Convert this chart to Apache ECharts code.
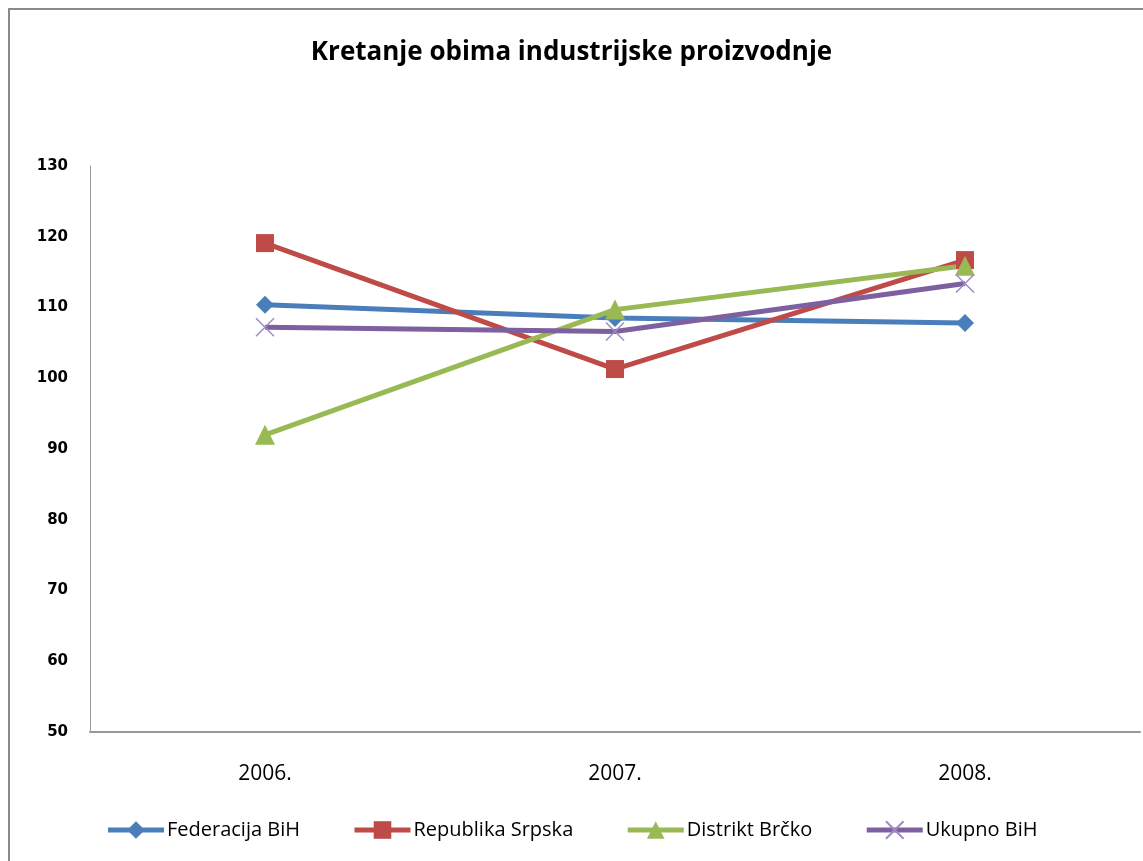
<!DOCTYPE html>
<html><head><meta charset="utf-8">
<script src="https://cdn.jsdelivr.net/npm/echarts@6/dist/echarts.min.js"></script>
<style>html,body{margin:0;padding:0;background:#fff}#c{width:1143px;height:861px}</style>
</head><body><div id="c"></div>
<script>
const categories = ['2006.', '2007.', '2008.'];
const federacija = [110.4, 108.5, 107.8];
const republika = [119.1, 101.3, 116.7];
const distrikt = [92.0, 109.7, 115.9];
const ukupno = [107.2, 106.6, 113.4];
const seriesNames = ['Federacija BiH', 'Republika Srpska', 'Distrikt Brčko', 'Ukupno BiH'];

const chart = echarts.init(document.getElementById('c'));
const xSym = 'path://M0,0L10,10M10,0L0,10';
chart.setOption({
  animation: false,
  backgroundColor: '#fff',
  title: {
    text: 'Kretanje obima industrijske proizvodnje',
    left: 'center', top: 35,
    textStyle: { fontFamily: 'Open Sans', fontWeight: 'bold', fontSize: 26, color: '#000' }
  },
  graphic: [{
    type: 'rect', shape: { x: 9, y: 9, width: 1300, height: 1000 },
    style: { fill: 'none', stroke: '#8a8a8a', lineWidth: 2 }, silent: true, z: 100
  }],
  grid: { left: 90, right: 3, top: 166, bottom: 129, containLabel: false },
  legend: {
    bottom: 16, left: 'center', itemWidth: 56, itemHeight: 22, itemGap: 52,
    lineStyle: { width: 5 },
    textStyle: { fontFamily: 'Open Sans', fontSize: 20, color: '#000', padding: [0, 0, 0, -2] },
    data: seriesNames
  },
  xAxis: {
    type: 'category', data: categories, boundaryGap: true,
    axisLine: { lineStyle: { color: '#999', width: 2 } },
    axisTick: { show: false },
    axisLabel: { fontFamily: 'Open Sans', fontSize: 21, color: '#000', margin: 32 }
  },
  yAxis: {
    type: 'value', min: 50, max: 130, interval: 10,
    axisLine: { show: true, lineStyle: { color: '#999', width: 1 } },
    axisTick: { show: false },
    splitLine: { show: false },
    axisLabel: { fontFamily: 'DejaVu Sans', fontWeight: 'bold', fontSize: 15, color: '#000', margin: 22 }
  },
  series: [
    { name: seriesNames[0], type: 'line', data: federacija, symbol: 'diamond', symbolSize: 18,
      lineStyle: { width: 5, color: '#4a7ebb' }, itemStyle: { color: '#4a7ebb' } },
    { name: seriesNames[1], type: 'line', data: republika, symbol: 'rect', symbolSize: 18,
      lineStyle: { width: 5, color: '#be4b48' }, itemStyle: { color: '#be4b48' } },
    { name: seriesNames[2], type: 'line', data: distrikt, symbol: 'triangle', symbolSize: 20,
      lineStyle: { width: 5, color: '#98b954' }, itemStyle: { color: '#98b954' } },
    { name: seriesNames[3], type: 'line', data: ukupno, symbol: xSym, symbolSize: 18,
      lineStyle: { width: 5, color: '#7d60a0' },
      itemStyle: { color: '#7d60a0', borderColor: '#9d8cc4', borderWidth: 1.5 } }
  ]
});
</script></body></html>
